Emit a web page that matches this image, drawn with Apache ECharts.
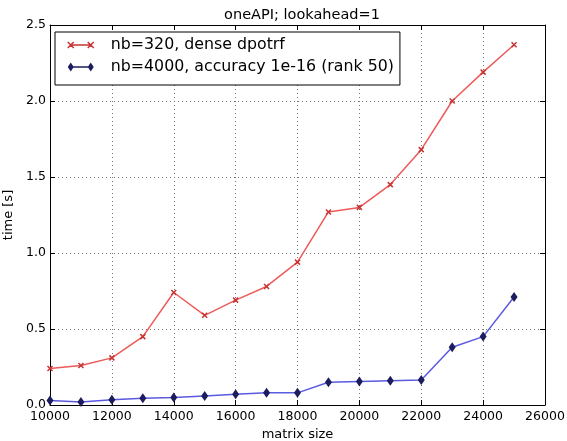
<!DOCTYPE html>
<html>
<head>
<meta charset="utf-8">
<script src="https://cdn.jsdelivr.net/npm/echarts@6/dist/echarts.min.js"></script>
<style>
  html, body { margin: 0; padding: 0; background: #fff; }
  #chart { width: 567px; height: 441px; }
</style>
</head>
<body>
<div id="chart"></div>
<script>
// Matrix sizes and timings (seconds)
const matrixSizes = [10000, 11000, 12000, 13000, 14000, 15000, 16000, 17000, 18000, 19000, 20000, 21000, 22000, 23000, 24000, 25000];
const denseTimes = [0.24, 0.26, 0.31, 0.45, 0.74, 0.59, 0.69, 0.78, 0.94, 1.27, 1.30, 1.45, 1.68, 2.00, 2.19, 2.37];
const tlrTimes = [0.03, 0.02, 0.035, 0.045, 0.05, 0.06, 0.07, 0.08, 0.08, 0.15, 0.155, 0.16, 0.165, 0.38, 0.45, 0.71];
const seriesNames = ['nb=320, dense dpotrf', 'nb=4000, accuracy 1e-16 (rank 50)'];
const xTicks = [10000, 12000, 14000, 16000, 18000, 20000, 22000, 24000, 26000];
const yTicks = [0.0, 0.5, 1.0, 1.5, 2.0, 2.5];

const font = 'DejaVu Sans';
const pair = (xs, ys) => xs.map((x, i) => [x, ys[i]]);

const RED_LINE = '#ee5a5a', RED_MARK = '#c83434';
const BLUE_LINE = '#5a5ae0', BLUE_MARK = '#1c1c5e';

// legend keys: a short line with a marker at each end
const crossKey = 'path://M0,0L6,6M6,0L0,6M3,3L23,3M20,0L26,6M26,0L20,6';
const diamondKey = 'path://M0,4.5L3,0L6,4.5L3,9ZM3,3.8L23,3.8L23,5.2L3,5.2ZM20,4.5L23,0L26,4.5L23,9Z';

const axisCommon = {
  axisLine: { show: true, onZero: false, lineStyle: { color: '#000', width: 1 } },
  axisTick: { show: true, inside: true, length: 5, lineStyle: { color: '#000' } }
};
const gridLine = { show: true, lineStyle: { color: '#777', type: [1, 3], width: 1 } };

const chart = echarts.init(document.getElementById('chart'), null, { renderer: 'canvas' });
chart.setOption({
  animation: false,
  backgroundColor: '#fff',
  title: {
    text: 'oneAPI; lookahead=1',
    left: 297, top: 3, textAlign: 'center',
    textStyle: { fontFamily: font, fontSize: 14.5, fontWeight: 'normal', color: '#000' }
  },
  legend: {
    orient: 'vertical',
    left: 55, top: 32,
    padding: [3, 6, 8, 12],
    itemGap: 2,
    itemWidth: 26, itemHeight: 9,
    icon: crossKey,
    backgroundColor: '#fff',
    borderColor: '#000', borderWidth: 1,
    textStyle: { fontFamily: font, fontSize: 15.8, lineHeight: 20, color: '#000', padding: [0, 0, 0, 12] },
    data: [
      { name: seriesNames[0], icon: crossKey,
        itemStyle: { color: 'rgba(0,0,0,0)', borderColor: RED_MARK, borderWidth: 1.5 } },
      { name: seriesNames[1], icon: diamondKey,
        itemStyle: { color: BLUE_MARK, borderColor: BLUE_MARK, borderWidth: 0 } }
    ]
  },
  grid: { left: 50, right: 22, top: 25, bottom: 36, containLabel: false, outerBoundsMode: 'none' },
  xAxis: [
    Object.assign({
      type: 'value', position: 'bottom',
      min: xTicks[0], max: xTicks[xTicks.length - 1], interval: 2000,
      name: 'matrix size', nameLocation: 'middle', nameGap: 23,
      nameTextStyle: { fontFamily: font, fontSize: 13, color: '#000' },
      axisLabel: { fontFamily: font, fontSize: 12.5, color: '#000', margin: 5,
                   formatter: v => String(v) },
      splitLine: gridLine
    }, axisCommon),
    Object.assign({
      type: 'value', position: 'top',
      min: xTicks[0], max: xTicks[xTicks.length - 1], interval: 2000,
      axisLabel: { show: false }, splitLine: { show: false }
    }, axisCommon)
  ],
  yAxis: [
    Object.assign({
      type: 'value', position: 'left',
      min: yTicks[0], max: yTicks[yTicks.length - 1], interval: 0.5,
      name: 'time [s]', nameLocation: 'middle', nameGap: 27, nameRotate: 90,
      nameTextStyle: { fontFamily: font, fontSize: 13, color: '#000' },
      axisLabel: { fontFamily: font, fontSize: 12.5, color: '#000', margin: 4,
                   formatter: v => v.toFixed(1) },
      splitLine: gridLine
    }, axisCommon),
    Object.assign({
      type: 'value', position: 'right',
      min: yTicks[0], max: yTicks[yTicks.length - 1], interval: 0.5,
      axisLabel: { show: false }, splitLine: { show: false }
    }, axisCommon)
  ],
  series: [
    {
      name: seriesNames[0], type: 'line',
      data: pair(matrixSizes, denseTimes),
      symbol: 'path://M0,0L10,10M10,0L0,10', symbolSize: 5,
      lineStyle: { color: RED_LINE, width: 1.5 },
      itemStyle: { color: 'rgba(0,0,0,0)', borderColor: RED_MARK, borderWidth: 1.5 }
    },
    {
      name: seriesNames[1], type: 'line',
      data: pair(matrixSizes, tlrTimes),
      symbol: 'diamond', symbolSize: [7, 10],
      lineStyle: { color: BLUE_LINE, width: 1.5 },
      itemStyle: { color: BLUE_MARK, borderColor: BLUE_MARK, borderWidth: 0 }
    }
  ]
});
</script>
</body>
</html>
